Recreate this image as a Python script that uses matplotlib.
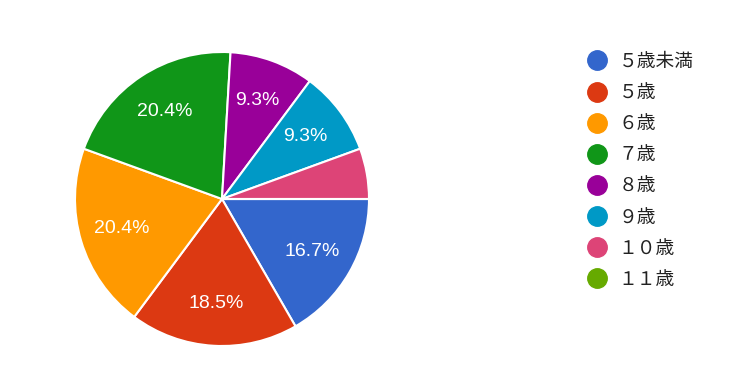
import matplotlib
matplotlib.use("Agg")
import matplotlib.pyplot as plt
from matplotlib.lines import Line2D

plt.rcParams['font.family'] = ['Noto Sans CJK JP', 'DejaVu Sans']

# 回答数 (54人)
age_labels = ['５歳未満', '５歳', '６歳', '７歳', '８歳', '９歳', '１０歳', '１１歳']
counts = [9, 10, 11, 11, 5, 5, 3, 0]
colors = ['#3366cc', '#dc3912', '#ff9900', '#109618', '#990099', '#0099c6', '#dd4477', '#66aa00']


def pct_label(p):
    # small slices get no label, like the google forms chart
    return f'{p:.1f}%' if p >= 7 else ''


fig = plt.figure(figsize=(7.38, 3.87), dpi=100)
ax = fig.add_axes([75 / 738, 41 / 387, 294 / 738, 294 / 387])

wedges, texts, autotexts = ax.pie(
    counts, colors=colors, startangle=0, counterclock=False,
    autopct=pct_label, pctdistance=0.71,
    wedgeprops=dict(edgecolor='white', linewidth=1.5),
    textprops=dict(color='white', fontsize=14, family=['Liberation Sans', 'DejaVu Sans']),
)
ax.set_xlim(-1, 1)
ax.set_ylim(-1, 1)
ax.set_aspect('equal')

handles = [Line2D([], [], marker='o', linestyle='', markersize=14, color=c) for c in colors]
fig.legend(
    handles, age_labels, loc='upper left', bbox_to_anchor=(586 / 738, 1 - 51 / 387),
    frameon=False, fontsize=13.5, labelspacing=0.54, handletextpad=0.55,
    handlelength=1.2, borderaxespad=0, borderpad=0, labelcolor='#222222',
)

fig.savefig('out.png', dpi=100, facecolor='white')
